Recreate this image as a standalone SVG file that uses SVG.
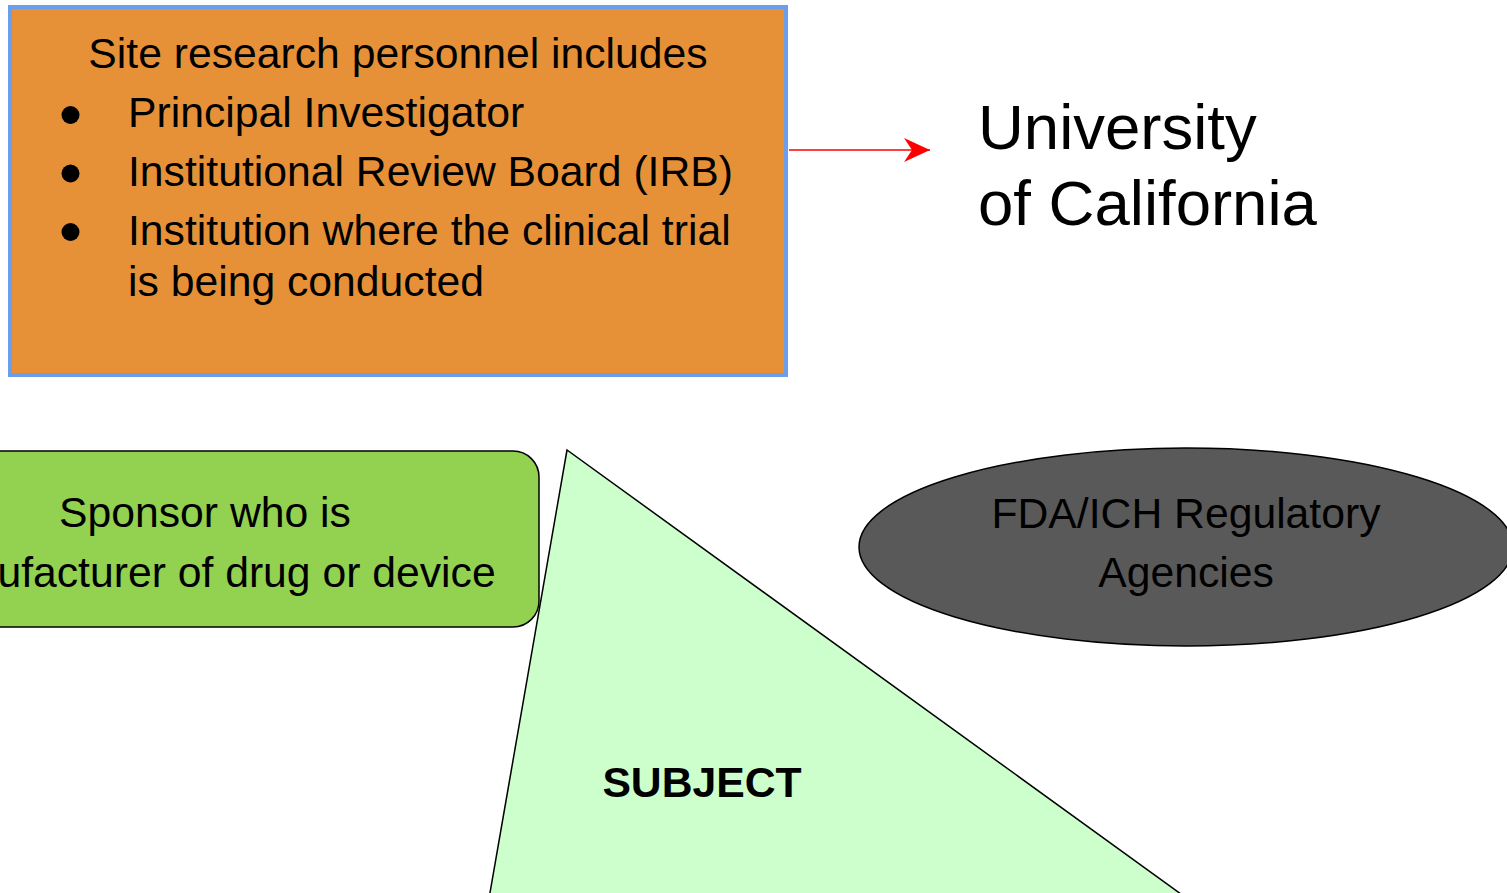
<svg xmlns="http://www.w3.org/2000/svg" width="1507" height="893" viewBox="0 0 1507 893">
<defs>
<style>
text{font-family:"Liberation Sans",Arial,sans-serif;font-size:42.7px;fill:#000}
.c{text-anchor:middle}
.shape{stroke:#000;stroke-width:1.5}
</style>
<marker id="ah" viewBox="0 0 26 24" refX="26" refY="12" markerWidth="26" markerHeight="24" markerUnits="userSpaceOnUse" orient="auto">
<path d="M0,0 L26,12 L0,24 L8,12 Z" fill="#ff0000"/>
</marker>
</defs>
<rect width="1507" height="893" fill="#fff"/>
<g id="site-personnel">
<rect x="10" y="7" width="776" height="368" fill="#e69138" stroke="#6d9eeb" stroke-width="4"/>
<text x="398" y="68" class="c">Site research personnel includes</text>
<circle cx="70.5" cy="115" r="9" fill="#000"/>
<circle cx="70.5" cy="173.5" r="9" fill="#000"/>
<circle cx="70.5" cy="232" r="9" fill="#000"/>
<text x="128" y="127">Principal Investigator</text>
<text x="128" y="186">Institutional Review Board (IRB)</text>
<text x="128" y="245">Institution where the clinical trial</text>
<text x="128" y="296">is being conducted</text>
</g>
<g id="university">
<text x="978" y="149" style="font-size:63.5px">University</text>
<text x="978" y="225" style="font-size:63.5px">of California</text>
</g>
<g id="sponsor">
<rect x="-60" y="451" width="599" height="176" rx="26" ry="26" fill="#93d150" class="shape"/>
<text x="205" y="527" class="c">Sponsor who is</text>
<text x="205" y="587" class="c">manufacturer of drug or device</text>
</g>
<g id="subject">
<polygon points="567,450 487,910 1203,910" fill="#ccffcc" class="shape"/>
<text x="702" y="797" class="c" style="font-weight:bold">SUBJECT</text>
</g>
<g id="fda">
<ellipse cx="1186" cy="547" rx="327" ry="99" fill="#595959" class="shape"/>
<text x="1186" y="528" class="c">FDA/ICH Regulatory</text>
<text x="1186" y="587" class="c">Agencies</text>
</g>
<g id="connectors">
<line x1="789" y1="150" x2="930" y2="150" stroke="#ff0000" stroke-width="1.5" marker-end="url(#ah)"/>
</g>
</svg>
